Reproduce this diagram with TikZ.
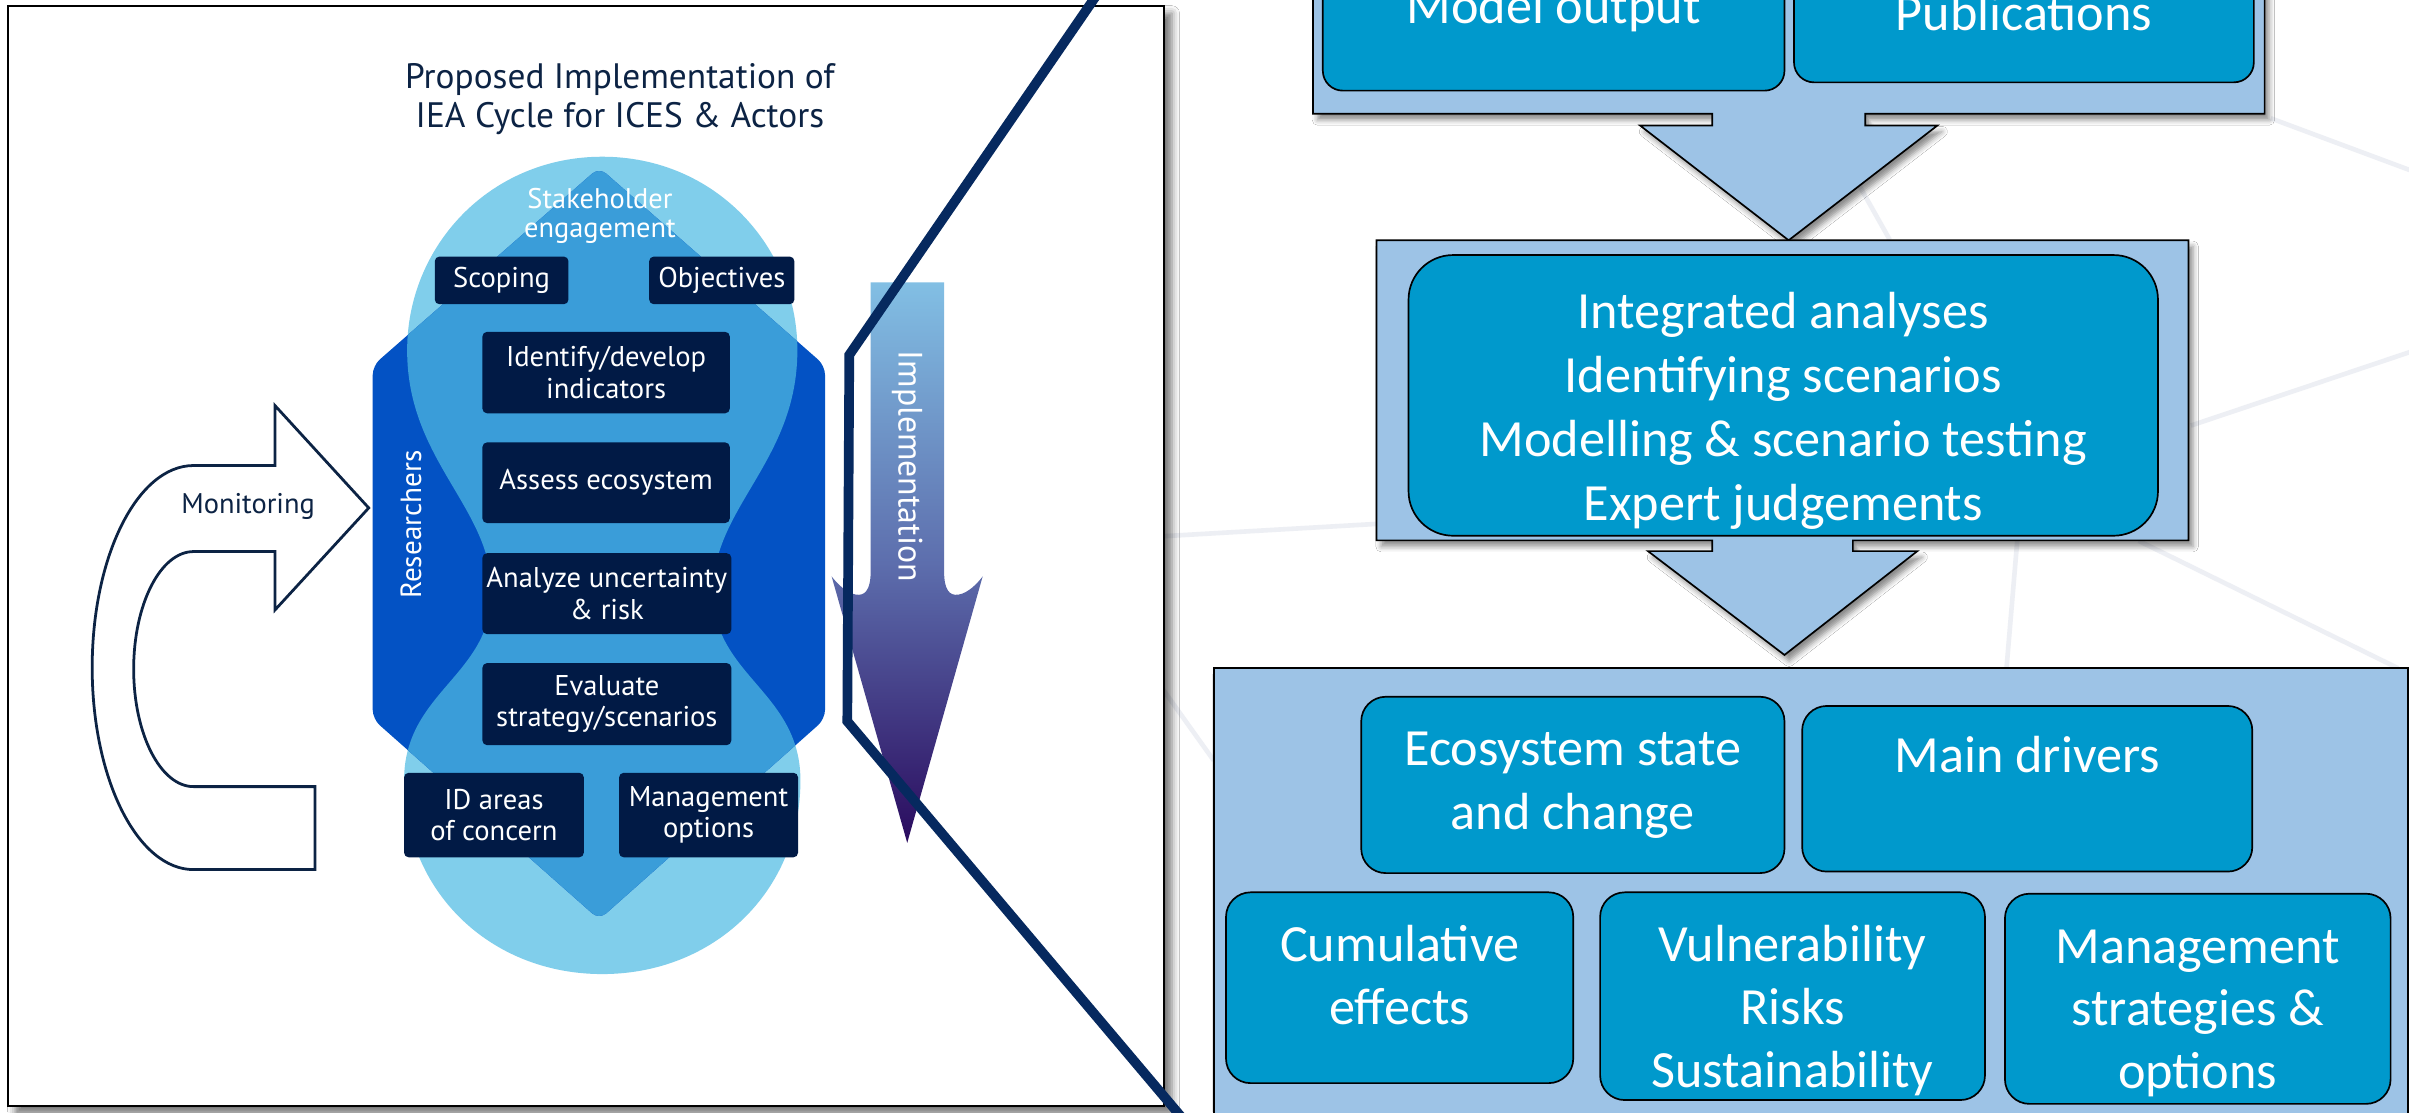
\documentclass[tikz,border=0pt]{standalone}
\usepackage{fontspec}
\setmainfont{PT Sans}
\newfontfamily\lfont{PT Sans}
\newfontfamily\rfont{Carlito}
\usetikzlibrary{shadows.blur}
\definecolor{lightb}{HTML}{80CEEB}
\definecolor{medb}{HTML}{3A9DD9}
\definecolor{darkb}{HTML}{0352C4}
\definecolor{navyb}{HTML}{011A45}
\definecolor{titlec}{HTML}{0C2344}
\definecolor{linec}{HTML}{06295F}
\definecolor{contb}{HTML}{9DC3E6}
\definecolor{boxb}{HTML}{0099CC}
\definecolor{faintc}{HTML}{EDEFF4}
\definecolor{impltop}{HTML}{82BFE4}
\definecolor{implmid}{HTML}{5D6EAD}
\definecolor{implbot}{HTML}{2A0B5E}
\newcommand{\ml}[1]{\begin{tabular}[t]{@{}c@{}}#1\end{tabular}}
\begin{document}
\begin{tikzpicture}[x=1pt,y=-1pt,
  navybox/.style={fill=navyb, rounded corners=3pt, text=white, inner sep=0pt,
    font=\lfont\fontsize{18.6}{20.5}\selectfont, align=center},
  cshadow/.style={blur shadow={shadow xshift=3pt,shadow yshift=-4pt,shadow blur radius=3.5pt,shadow opacity=45}},
  container/.style={fill=contb, draw=black, line width=1.1pt, cshadow},
  cbox/.style={fill=boxb, draw=black, line width=1.1pt, rectangle, inner sep=0pt},
  ctext/.style={text=white, font=\rfont\fontsize{34}{41.7}\selectfont, inner sep=0pt, anchor=base},
  ltext/.style={inner sep=0pt, font=\lfont\fontsize{18.5}{19.3}\selectfont},
  faint/.style={draw=faintc, line width=3pt}]
\useasboundingbox (0,0) rectangle (1568,724);
\clip (0,0) rectangle (1568,724);
\fill[white] (0,0) rectangle (1568,724);

% faint background network lines
\draw[faint] (1478,77) -- (1572,112);
\draw[faint] (1426,277) -- (1572,228);
\draw[faint] (740,350) -- (896,341);
\draw[faint] (1313,352) -- (1306,435);
\draw[faint] (1392,352) -- (1561,435);
\draw[faint] (755,446) -- (790,495);
\draw[faint] (1203,108) -- (1230,156);

% left panel frame
\draw[black, line width=1.3pt, fill=white,
  blur shadow={shadow xshift=5pt,shadow yshift=-5pt,shadow blur radius=5pt,shadow opacity=55}]
  (5,3.7) rectangle (757.7,720);

\node[anchor=base, inner sep=0pt, text=titlec, font=\lfont\fontsize{23}{25.5}\selectfont]
  (title) at (403.5,57.6) {\ml{Proposed Implementation of\\IEA Cycle for ICES \& Actors}};

% stakeholder peanut
\fill[lightb] (392,102) .. controls (465,102) and (519,160) .. (519,228)
  .. controls (519,300) and (464,330) .. (464,385)
  .. controls (464,440) and (521,450) .. (521,508)
  .. controls (521,580) and (465,634) .. (392,634)
  .. controls (319,634) and (263,580) .. (263,508)
  .. controls (263,450) and (320,440) .. (320,385)
  .. controls (320,330) and (265,300) .. (265,228)
  .. controls (265,160) and (319,102) .. (392,102) -- cycle;
% researchers hexagon
\fill[darkb, rounded corners=6pt] (390,109) -- (537,238) -- (537,468) -- (390,598.5)
  -- (242.6,468) -- (242.6,238) -- cycle;
\begin{scope}
\clip (392,102) .. controls (465,102) and (519,160) .. (519,228)
  .. controls (519,300) and (464,330) .. (464,385)
  .. controls (464,440) and (521,450) .. (521,508)
  .. controls (521,580) and (465,634) .. (392,634)
  .. controls (319,634) and (263,580) .. (263,508)
  .. controls (263,450) and (320,440) .. (320,385)
  .. controls (320,330) and (265,300) .. (265,228)
  .. controls (265,160) and (319,102) .. (392,102) -- cycle;
\fill[medb, rounded corners=6pt] (390,109) -- (537,238) -- (537,468) -- (390,598.5)
  -- (242.6,468) -- (242.6,238) -- cycle;
\end{scope}

\node[ltext, anchor=base, text=white] (stake) at (390.5,135.6) {\ml{Stakeholder\\engagement}};
\node[ltext, text=white, rotate=90, font=\lfont\fontsize{19}{20}\selectfont] (res) at (267.5,341.5) {Researchers};

% navy step boxes
\node[navybox, minimum width=87pt, minimum height=31pt] (scoping) at (326.5,182.5) {Scoping};
\node[navybox, minimum width=94.5pt, minimum height=31pt] (objectives) at (469.8,182.5) {Objectives};
\node[navybox, minimum width=161pt, minimum height=53pt] (identify) at (394.5,242.5) {Identify/develop\\indicators};
\node[navybox, minimum width=161pt, minimum height=52.5pt] (assess) at (394.5,314.2) {Assess ecosystem};
\node[navybox, minimum width=162pt, minimum height=52.7pt] (analyze) at (395,386.4) {Analyze uncertainty\\\& risk};
\node[navybox, minimum width=162pt, minimum height=53.4pt] (evaluate) at (395,458.3) {Evaluate\\strategy/scenarios};
\node[navybox, minimum width=117pt, minimum height=55pt] (idareas) at (321.5,530.5) {ID areas\\of concern};
\node[navybox, minimum width=116.5pt, minimum height=55pt] (mgtopt) at (461.2,530.5) {Management\\options};

% monitoring U-arrow
\draw[titlec, line width=1.8pt, fill=white, line join=miter]
  (126,303) -- (179,303) -- (179,264) -- (240,330.6) -- (179,397) -- (179,359) -- (126,359)
  .. controls (104.5,359) and (87,393.2) .. (87,435.5)
  .. controls (87,477.8) and (104.5,512) .. (126,512)
  -- (205,512) -- (205,566) -- (126,566)
  .. controls (89.5,566) and (60,507.1) .. (60,434.5)
  .. controls (60,361.9) and (89.5,303) .. (126,303) -- cycle;
\node[ltext, anchor=base, text=titlec, font=\lfont\fontsize{18.5}{20}\selectfont] (monit) at (161.5,334) {Monitoring};

% implementation arrow
\shade[top color=impltop, bottom color=implbot, middle color=implmid]
  (566.7,183.8) -- (614.5,183.8) -- (614.5,372)
  .. controls (614.5,384) and (618,388) .. (624,387)
  .. controls (630,386) and (636,380) .. (639.6,375.2)
  -- (590.5,548.6) -- (541.3,375.2)
  .. controls (545,380) and (551,386) .. (557,387)
  .. controls (563,388) and (566.7,384) .. (566.7,372) -- cycle;
\node[ltext, text=white, rotate=-90, font=\lfont\fontsize{22}{24}\selectfont] (impl) at (590.5,303.5) {Implementation};

% navy zoom line
\coordinate (z0) at (715,-5);
\coordinate (z1) at (552.8,231);
\coordinate (z2) at (551.5,469.5);
\coordinate (z3) at (790,752);
\draw[linec, line width=6.3pt, line join=miter] (z0) -- (z1) -- (z2) -- (z3);

% right panel: top container with down arrow
\draw[container] (854.6,-20) -- (854.6,74) -- (1114.5,74) -- (1114.5,81.7) -- (1067.5,81.7)
  -- (1164.2,156.4) -- (1261,81.7) -- (1214,81.7) -- (1214,74) -- (1474,74) -- (1474,-20) -- cycle;
\node[cbox, rounded corners=13pt, minimum width=300.5pt, minimum height=99pt] (model) at (1011.25,9.5) {};
\node[cbox, rounded corners=13pt, minimum width=299.3pt, minimum height=93.6pt] (pub) at (1317.35,6.8) {};
\node[ctext] (model-t) at (1011.25,15.5) {Model output};
\node[ctext] (pub-t) at (1317.35,19.8) {Publications};

% middle container with down arrow
\draw[container] (896,156.4) -- (1424.4,156.4) -- (1424.4,351.7) -- (1206,351.7) -- (1206,358.7)
  -- (1248,358.7) -- (1161.5,426.3) -- (1072.6,358.7) -- (1114.5,358.7) -- (1114.5,351.7)
  -- (896,351.7) -- cycle;
\node[cbox, rounded corners=29pt, minimum width=487.8pt, minimum height=182.7pt] (mid) at (1160.7,257.35) {};
\node[ctext] (mid-t) at (1160.7,213.7) {\ml{Integrated analyses\\Identifying scenarios\\Modelling \& scenario testing\\Expert judgements}};

% bottom container
\draw[container] (790,434.8) -- (1567.4,434.8) -- (1567.4,760) -- (790,760) -- cycle;
\node[cbox, rounded corners=16pt, minimum width=275.5pt, minimum height=114.8pt] (eco) at (1023.75,510.9) {};
\node[cbox, rounded corners=16pt, minimum width=293pt, minimum height=107.8pt] (main) at (1319.5,513.4) {};
\node[cbox, rounded corners=16pt, minimum width=226pt, minimum height=124.2pt] (cum) at (911,642.9) {};
\node[cbox, rounded corners=16pt, minimum width=250.5pt, minimum height=135.2pt] (vul) at (1166.75,648.4) {};
\node[cbox, rounded corners=16pt, minimum width=251pt, minimum height=136.8pt] (mgt) at (1430.5,650.1) {};
\node[ctext] (eco-t) at (1023.75,498) {\ml{Ecosystem state\\and change}};
\node[ctext] (main-t) at (1319.5,503) {Main drivers};
\node[ctext, font=\rfont\fontsize{34}{40.5}\selectfont] (cum-t) at (911,626) {\ml{Cumulative\\effects}};
\node[ctext, font=\rfont\fontsize{34}{41}\selectfont] (vul-t) at (1166.75,626) {\ml{Vulnerability\\Risks\\Sustainability}};
\node[ctext, font=\rfont\fontsize{34}{40.7}\selectfont] (mgt-t) at (1430.5,627) {\ml{Management\\strategies \&\\options}};
\end{tikzpicture}
\end{document}
